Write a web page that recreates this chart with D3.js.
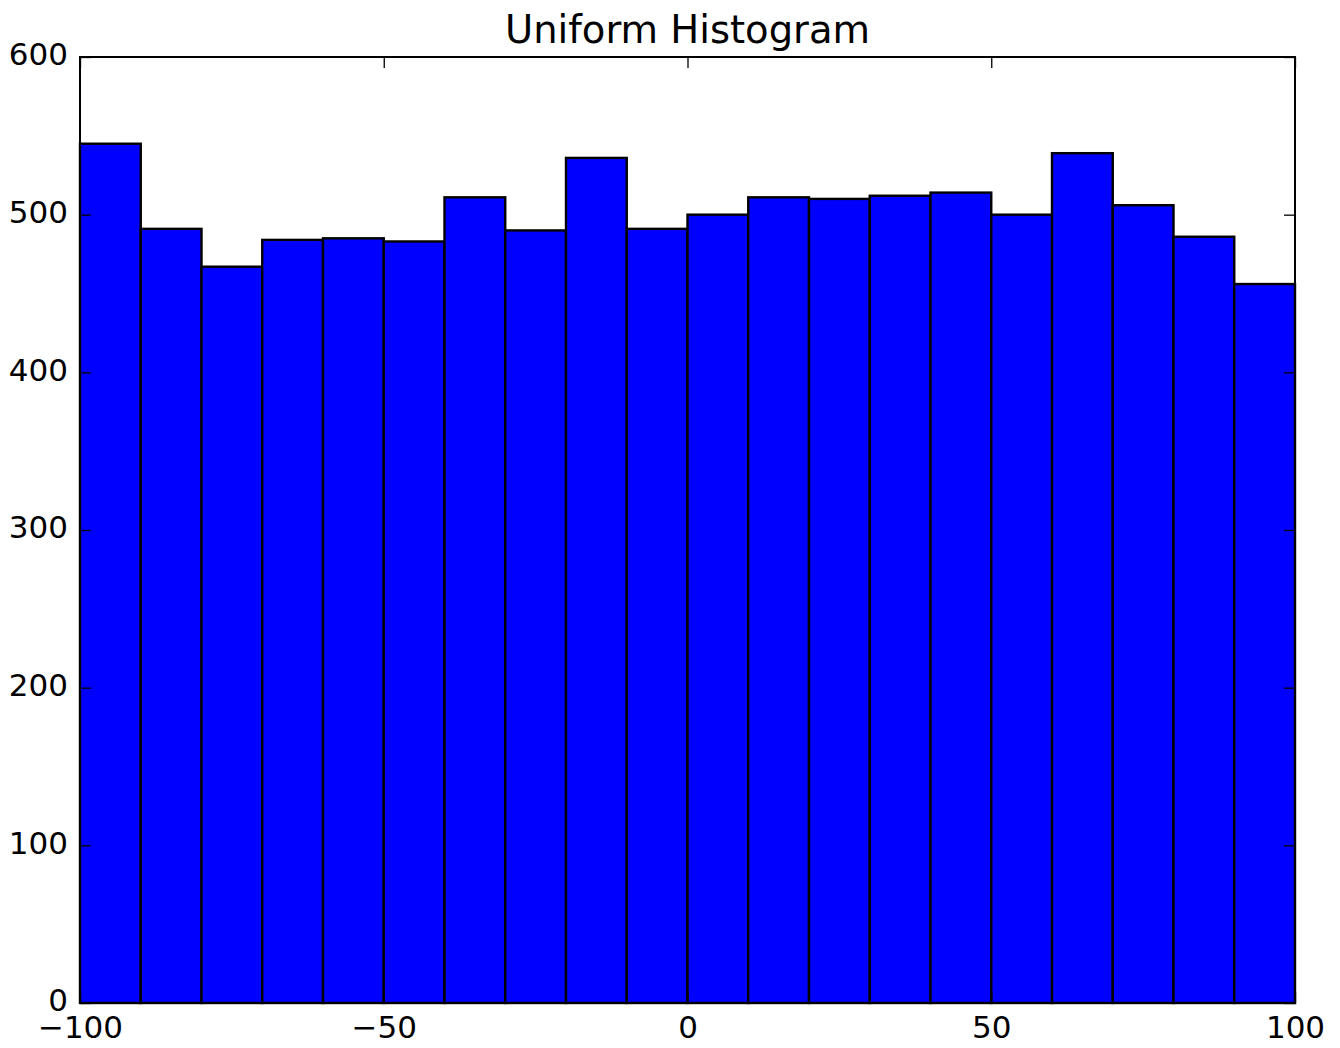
<!DOCTYPE html>
<html>
<head>
<meta charset="utf-8">
<script src="https://cdn.jsdelivr.net/npm/d3@7"></script>
<style>
  html, body { margin: 0; padding: 0; background: #fff; }
  svg { display: block; }
  text { font-family: "DejaVu Sans", sans-serif; fill: #000; }
</style>
</head>
<body>
<svg id="chart" width="1340" height="1048"></svg>
<script>
const binEdges = [-100,-90,-80,-70,-60,-50,-40,-30,-20,-10,0,10,20,30,40,50,60,70,80,90,100];
const counts = [545,491,467,484,485,483,511,490,536,491,500,511,510,512,514,500,539,506,486,456];
const xTicks = [-100,-50,0,50,100];
const yTicks = [0,100,200,300,400,500,600];
const title = "Uniform Histogram";

(function () {
const svg = d3.select("#chart");
const L = 80, R = 1295, T = 57, B = 1003;
const x = d3.scaleLinear().domain([-100, 100]).range([L, R]);
const y = d3.scaleLinear().domain([0, 600]).range([B, T]);

const bins = counts.map((c, i) => ({ x0: binEdges[i], x1: binEdges[i + 1], c }));

svg.append("g").selectAll("rect").data(bins).join("rect")
  .attr("x", d => x(d.x0))
  .attr("y", d => y(d.c))
  .attr("width", d => x(d.x1) - x(d.x0))
  .attr("height", d => y(0) - y(d.c))
  .attr("fill", "#0000ff")
  .attr("stroke", "#000")
  .attr("stroke-width", 2.4);

const fmt = v => (v < 0 ? "\u2212" + Math.abs(v) : String(v));
const tickLen = 11;

const axB = d3.axisBottom(x).tickValues(xTicks).tickFormat(fmt).tickSizeInner(-tickLen).tickSizeOuter(0).tickPadding(13);
const gb = svg.append("g").attr("transform", `translate(0,${B})`).call(axB);
const axT = d3.axisTop(x).tickValues(xTicks).tickFormat("").tickSizeInner(-tickLen).tickSizeOuter(0);
const gt = svg.append("g").attr("transform", `translate(0,${T})`).call(axT);
const axL = d3.axisLeft(y).tickValues(yTicks).tickFormat(d3.format("d")).tickSizeInner(-tickLen).tickSizeOuter(0).tickPadding(12);
const gl = svg.append("g").attr("transform", `translate(${L},0)`).call(axL);
const axR = d3.axisRight(y).tickValues(yTicks).tickFormat("").tickSizeInner(-tickLen).tickSizeOuter(0);
const gr = svg.append("g").attr("transform", `translate(${R},0)`).call(axR);

[gb, gt, gl, gr].forEach(g => {
  g.select(".domain").remove();
  g.selectAll(".tick line").attr("stroke", "#000").attr("stroke-width", 1.3);
  g.selectAll(".tick text").attr("font-family", "DejaVu Sans").attr("font-size", 31).attr("fill", "#1a1a1a");
});
gl.selectAll(".tick text").attr("dy", "0.25em");
gb.selectAll(".tick text").attr("dy", "0.71em");

svg.append("rect")
  .attr("x", L).attr("y", T).attr("width", R - L).attr("height", B - T)
  .attr("fill", "none").attr("stroke", "#000").attr("stroke-width", 2);

svg.append("text")
  .attr("x", (L + R) / 2).attr("y", 43)
  .attr("text-anchor", "middle")
  .attr("font-size", 38.5)
  .attr("fill", "#1a1a1a")
  .text(title);
})();
</script>
</body>
</html>
